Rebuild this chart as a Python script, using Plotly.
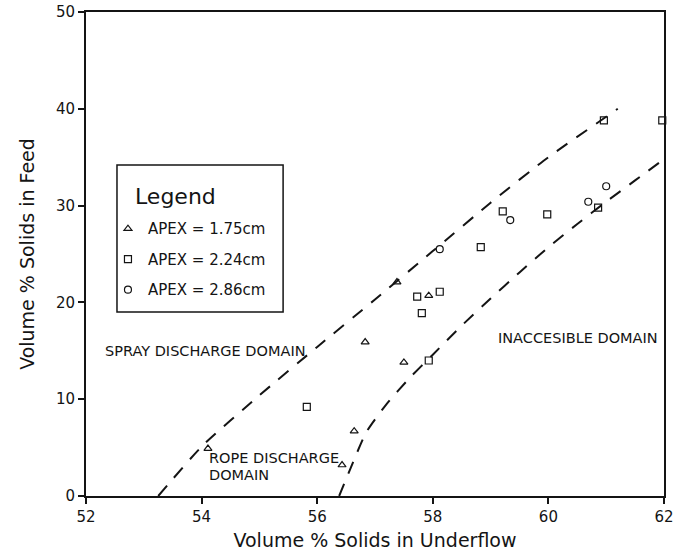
import plotly.graph_objects as go

# Measured points, grouped by apex diameter
apex_175_x = [54.11, 56.43, 56.64, 56.83, 57.38, 57.50, 57.93]
apex_175_y = [4.9, 3.2, 6.7, 15.9, 22.1, 13.8, 20.7]

apex_224_x = [55.82, 57.73, 57.81, 57.93, 58.12, 58.83, 59.21, 59.98, 60.86, 60.96, 61.97]
apex_224_y = [9.2, 20.6, 18.9, 14.0, 21.1, 25.7, 29.4, 29.1, 29.8, 38.8, 38.8]

apex_286_x = [58.12, 59.34, 60.69, 61.00]
apex_286_y = [25.5, 28.5, 30.4, 32.0]

# Domain boundaries
spray_bound_x = [53.25, 54.0, 55.0, 56.0, 57.0, 58.0, 59.0, 60.0, 61.2]
spray_bound_y = [0.0, 5.1, 10.4, 15.4, 20.3, 25.3, 30.3, 35.0, 40.0]

rope_bound_x = [56.38, 56.6, 56.85, 57.2, 57.6, 58.0, 58.5, 59.0, 59.5, 60.0, 60.5, 61.0, 61.5, 62.0]
rope_bound_y = [0.0, 3.2, 6.6, 9.5, 12.2, 14.6, 17.6, 20.4, 23.1, 25.7, 28.1, 30.4, 32.6, 34.8]

x_ticks = [52, 54, 56, 58, 60, 62]
y_ticks = [0, 10, 20, 30, 40, 50]

FONT = "DejaVu Sans"
INK = "#141414"

fig = go.Figure()

for bx, by in [(spray_bound_x, spray_bound_y), (rope_bound_x, rope_bound_y)]:
    fig.add_trace(go.Scatter(
        x=bx, y=by, mode="lines", showlegend=False, hoverinfo="skip",
        line=dict(color=INK, width=2, dash="13px,11px", shape="spline", smoothing=0.6),
    ))

series = [
    ("APEX = 1.75cm", apex_175_x, apex_175_y, "triangle-up-open", 7),
    ("APEX = 2.24cm", apex_224_x, apex_224_y, "square-open", 7),
    ("APEX = 2.86cm", apex_286_x, apex_286_y, "circle-open", 7),
]
for name, sx, sy, sym, size in series:
    fig.add_trace(go.Scatter(
        x=sx, y=sy, mode="markers", name=name, legendgroup=name,
        marker=dict(symbol=sym, size=size, color=INK, line=dict(color=INK, width=1.2)),
        cliponaxis=False,
    ))

label_font = dict(family=FONT, size=14.5, color=INK)
fig.add_annotation(x=52.29, y=15.0, text="SPRAY DISCHARGE DOMAIN", showarrow=False,
                   xanchor="left", yanchor="middle", font=label_font)
fig.add_annotation(x=59.09, y=16.3, text="INACCESIBLE DOMAIN", showarrow=False,
                   xanchor="left", yanchor="middle", font=label_font)
fig.add_annotation(x=54.1, y=3.9, text="ROPE DISCHARGE", showarrow=False,
                   xanchor="left", yanchor="middle", font=label_font)
fig.add_annotation(x=54.1, y=2.2, text="DOMAIN", showarrow=False,
                   xanchor="left", yanchor="middle", font=label_font)

# Framed legend panel: box and heading drawn around the built-in legend entries
fig.add_shape(type="rect", xref="paper", yref="paper",
              x0=0.0536, x1=0.341, y0=0.380, y1=0.684,
              line=dict(color=INK, width=1.5), fillcolor="white", layer="below")
fig.add_annotation(xref="paper", yref="paper", x=0.0813, y=0.618, text="Legend",
                   showarrow=False, xanchor="left", yanchor="middle",
                   font=dict(family=FONT, size=22, color=INK))

axis_common = dict(
    showgrid=False, zeroline=False, showline=True, linecolor=INK, linewidth=2,
    mirror=True, ticks="outside", ticklen=6, tickwidth=1.5, tickcolor=INK,
    tickfont=dict(family=FONT, size=15, color=INK), automargin=False,
    ticklabeloverflow="allow",
)

fig.update_layout(
    width=675, height=554,
    margin=dict(l=86, r=11, t=12, b=58),
    paper_bgcolor="white", plot_bgcolor="white",
    font=dict(family=FONT, color=INK),
    xaxis=dict(range=[52, 62], tickvals=x_ticks,
               title=dict(text="Volume % Solids in Underflow",
                          font=dict(family=FONT, size=19, color=INK), standoff=9),
               **axis_common),
    yaxis=dict(range=[0, 50], tickvals=y_ticks,
               title=dict(text="Volume % Solids in Feed",
                          font=dict(family=FONT, size=19, color=INK), standoff=16),
               **axis_common),
    legend=dict(
        x=0.038, y=0.586, xanchor="left", yanchor="top",
        borderwidth=0, bgcolor="rgba(0,0,0,0)",
        font=dict(family=FONT, size=15, color=INK),
        tracegroupgap=8, traceorder="grouped",
    ),
)

fig.write_html("out.html")
